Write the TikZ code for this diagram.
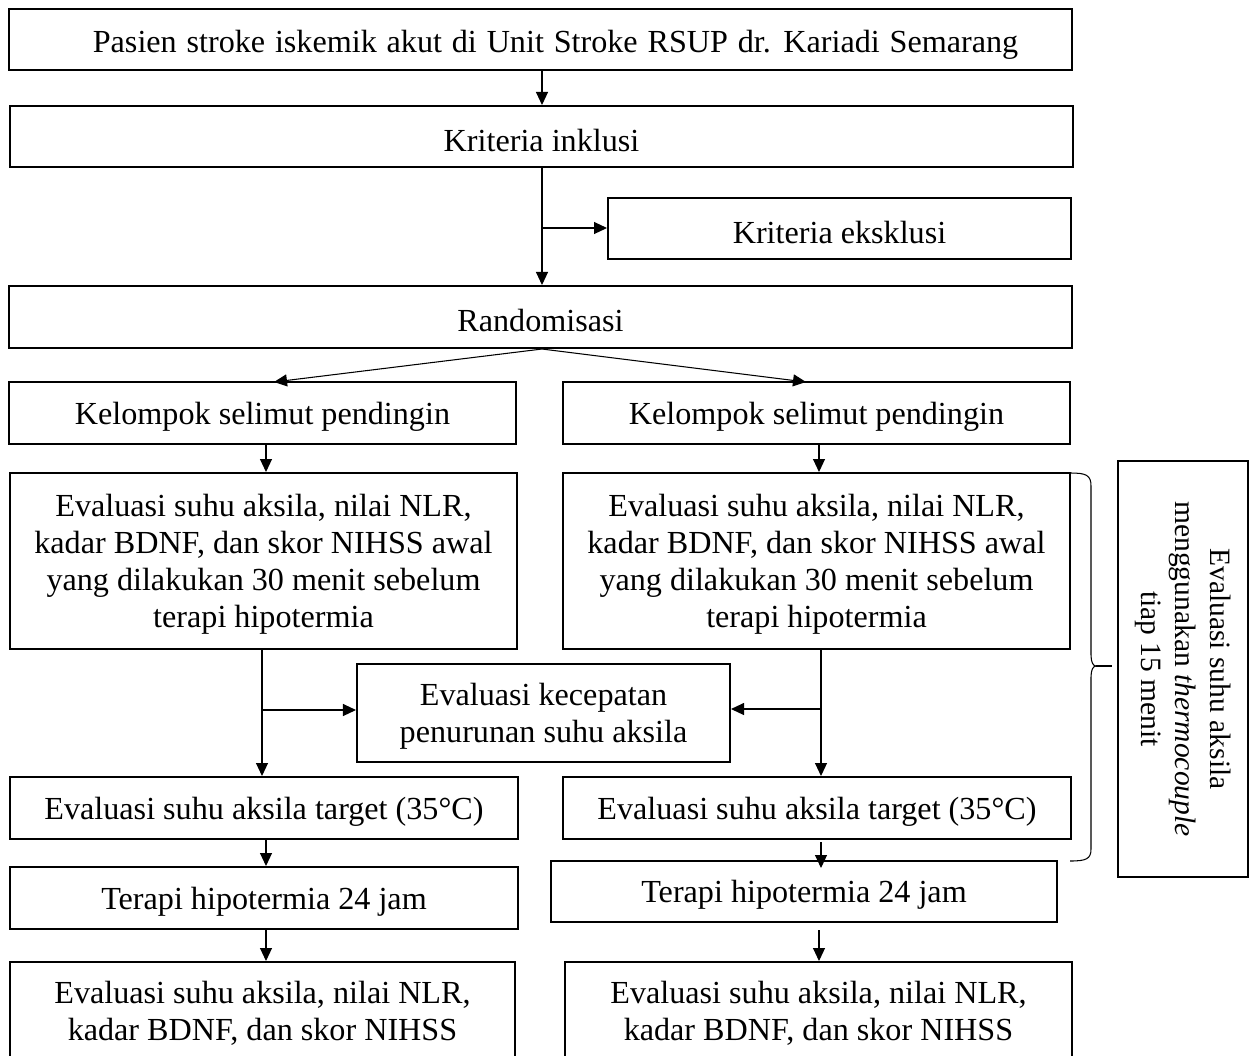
\documentclass[tikz,border=0pt]{standalone}
\usepackage{fontspec}
\setmainfont{Liberation Serif}
\usetikzlibrary{arrows.meta,fit}
\begin{document}
\begin{tikzpicture}[x=0.02cm,y=-0.02cm,
  box/.style={draw,line width=1.15pt,inner sep=0pt},
  txt/.style={inner sep=0pt,align=center,font=\fontsize{18.3}{21}\selectfont},
  arr/.style={line width=0.6pt,-{Triangle[length=0.26cm,width=0.24cm]}}]
\useasboundingbox (0,0) rectangle (1256,1055);
\clip (0,0) rectangle (1256,1055);

% main column
\node[box,fit={(9,9) (1072,70)}] (top) {};
\node[box,fit={(10,106) (1073,167)}] (inkl) {};
\node[box,fit={(608,198) (1071,259)}] (eks) {};
\node[box,fit={(9,286) (1072,348)}] (rand) {};

% two arms
\node[box,fit={(9,382) (516,444)}] (kelL) {};
\node[box,fit={(563,382) (1070,444)}] (kelR) {};
\node[box,fit={(10,473) (517,649)}] (evL) {};
\node[box,fit={(563,473) (1070,649)}] (evR) {};
\node[box,fit={(357,664) (730,762)}] (kec) {};
\node[box,fit={(10,777) (518,839)}] (tgL) {};
\node[box,fit={(563,777) (1071,839)}] (tgR) {};
\node[box,fit={(10,867) (518,929)}] (hpL) {};
\node[box,fit={(551,861) (1057,922)}] (hpR) {};
\node[box,fit={(10,962) (515,1065)}] (finL) {};
\node[box,fit={(565,962) (1072,1065)}] (finR) {};
\node[box,fit={(1118,461) (1248,877)}] (side) {};

% box texts
\node[txt] (topT) at ([xshift=0.3cm,yshift=-3]top.center) {\spaceskip=5.6pt Pasien stroke iskemik akut di Unit Stroke RSUP dr. Kariadi Semarang};
\node[txt] (inklT) at ([yshift=-2]inkl.center) {Kriteria inklusi};
\node[txt] (eksT) at ([yshift=-2]eks.center) {Kriteria eksklusi};
\node[txt] (randT) at ([yshift=-2]rand.center) {Randomisasi};
\node[txt] (kelLT) at ([yshift=-2]kelL.center) {Kelompok selimut pendingin};
\node[txt] (kelRT) at ([yshift=-2]kelR.center) {Kelompok selimut pendingin};
\node[txt] (evLT) at ([yshift=-2]evL.center) {Evaluasi suhu aksila, nilai NLR,\\kadar BDNF, dan skor NIHSS awal\\yang dilakukan 30 menit sebelum\\terapi hipotermia};
\node[txt] (evRT) at ([yshift=-2]evR.center) {Evaluasi suhu aksila, nilai NLR,\\kadar BDNF, dan skor NIHSS awal\\yang dilakukan 30 menit sebelum\\terapi hipotermia};
\node[txt] (kecT) at ([yshift=-2]kec.center) {Evaluasi kecepatan\\penurunan suhu aksila};
\node[txt] (tgLT) at ([yshift=-2]tgL.center) {Evaluasi suhu aksila target (35°C)};
\node[txt] (tgRT) at ([yshift=-2]tgR.center) {Evaluasi suhu aksila target (35°C)};
\node[txt] (hpLT) at ([yshift=-2]hpL.center) {Terapi hipotermia 24 jam};
\node[txt] (hpRT) at ([yshift=-2]hpR.center) {Terapi hipotermia 24 jam};
\node[txt] (finLT) at (finL.center |- 0,1013) {Evaluasi suhu aksila, nilai NLR,\\kadar BDNF, dan skor NIHSS};
\node[txt] (finRT) at (finR.center |- 0,1013) {Evaluasi suhu aksila, nilai NLR,\\kadar BDNF, dan skor NIHSS};
\node[txt,rotate=-90,font=\fontsize{16.8}{19.8}\selectfont]
  (sideT) at (side.center) {Evaluasi suhu aksila\\menggunakan \textit{thermocouple}\\tiap 15 menit};

% connectors
\coordinate (split) at (542,228);
\draw[arr] (top.south -| split) -- (inkl.north -| split);
\draw[arr] (inkl.south -| split) -- (rand.north -| split);
\draw[arr] (split) -- (eks.west |- split);

\draw[arr] (rand.south -| split) -- (274,382);
\draw[arr] (rand.south -| split) -- (806,382);

\draw[arr] (kelL.south -| 266,0) -- (evL.north -| 266,0);
\draw[arr] (kelR.south -| 819,0) -- (evR.north -| 819,0);

\coordinate (jL) at (262,710);
\coordinate (jR) at (821,709);
\draw[arr] (evL.south -| jL) -- (tgL.north -| jL);
\draw[arr] (jL) -- (kec.west |- jL);
\draw[arr] (evR.south -| jR) -- (tgR.north -| jR);
\draw[arr] (jR) -- (kec.east |- jR);

\draw[arr] (tgL.south -| 266,0) -- (hpL.north -| 266,0);
\coordinate (tgRout) at (821,842);
\coordinate (hpRin) at (821,868);
\draw[arr] (tgRout) -- (hpRin);
\draw[arr] (hpL.south -| 266,0) -- (finL.north -| 266,0);
\coordinate (hpRout) at (819,930);
\draw[arr] (hpRout) -- (finR.north -| hpRout);

% brace spanning the timed evaluations
\coordinate (brTop) at (1070,473);
\coordinate (brTip) at (1096,666);
\coordinate (brBot) at (1070,861);
\draw[line width=0.6pt,line join=round]
  (brTop) .. controls (1086,473) and (1091,475) .. (1091,486)
  -- (1091,655) .. controls (1091,662) and (1093,666) .. (brTip)
  .. controls (1093,666) and (1091,670) .. (1091,677)
  -- (1091,849) .. controls (1091,859) and (1086,861) .. (brBot);
\draw[line width=0.6pt] (brTip) -- (1112,666);
\end{tikzpicture}
\end{document}
